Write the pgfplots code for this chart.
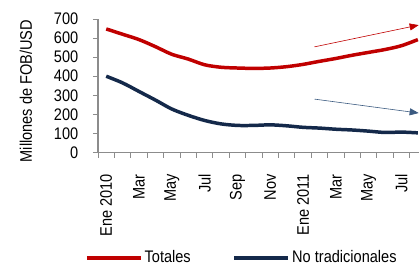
\documentclass[border=0pt]{standalone}
\usepackage{pgfplots}
\pgfplotsset{compat=1.18}
\usepackage{fontspec}
\setmainfont{Liberation Sans}[FakeStretch=0.87]
\usetikzlibrary{arrows.meta}
\definecolor{tred}{HTML}{C00000}
\definecolor{tblue}{HTML}{14294A}
\definecolor{ablue}{HTML}{3B5A80}
\definecolor{agray}{HTML}{8C8C8C}
\newcommand{\cf}{\fontsize{16.8}{19}\selectfont}
\begin{document}
\cf
\begin{tikzpicture}
\begin{axis}[
  name=ax,
  scale only axis,
  width=321bp, height=133.5bp,
  xmin=-0.5, xmax=19.07,
  ymin=0, ymax=700,
  axis x line=bottom, axis y line=left,
  axis line style={-, agray, line width=1.3pt},
  ytick={0,100,...,700},
  xtick={0,2,...,18},
  xticklabels={Ene 2010,Mar,May,Jul,Sep,Nov,Ene 2011,Mar,May,Jul},
  minor xtick={-0.5,0.5,...,19.5},
  major x tick style={draw=none},
  minor tick length=5bp,
  major tick length=5bp,
  tick align=outside,
  tick style={agray, line width=1pt},
  xticklabel style={rotate=90, anchor=east, font=\cf},
  yticklabel style={font=\cf},
  xticklabel shift=11bp,
  yticklabel shift=9bp,
  /pgf/number format/assume math mode=true,
  ylabel={Millones de FOB/USD},
  ylabel style={at={(axis description cs:-0.225,0.46)}, anchor=center, font=\cf},
  clip=true,
  legend columns=2,
  legend style={draw=none, fill=none, at={(axis description cs:-0.05,-0.79)}, anchor=west,
     font=\cf, /tikz/every even column/.append style={column sep=40bp}},
  legend image code/.code={\draw[#1, line width=3.5pt] (0bp,0bp) -- (54bp,0bp);},
]
\addplot[tred, line width=3.5pt, smooth, tension=0.5] coordinates {
(0,648) (1,620) (2,592) (3,555) (4,515) (5,490) (6,460) (7,447) (8,443) (9,441)
(10,443) (11,450) (12,462) (13,478) (14,493) (15,510) (16,525) (17,540) (18,560) (19,592)};
\addlegendentry{Totales}
\addplot[tblue, line width=3.5pt, smooth, tension=0.5] coordinates {
(0,400) (1,365) (2,320) (3,275) (4,228) (5,195) (6,168) (7,150) (8,142) (9,142)
(10,145) (11,140) (12,132) (13,128) (14,122) (15,118) (16,112) (17,105) (18,107) (19,103)};
\addlegendentry{No tradicionales}
\draw[tred, line width=0.6pt, -{Triangle[length=9bp,width=7bp]}] (axis cs:12.7,554) -- (axis cs:19.05,668);
\draw[ablue, line width=0.6pt, -{Triangle[length=9bp,width=7bp]}] (axis cs:12.7,280) -- (axis cs:19.05,207);
\end{axis}
\pgfresetboundingbox
\path ([shift={(-98bp,-112.5bp)}]ax.south west) rectangle ([shift={(321bp,152.5bp)}]ax.south west);
\end{tikzpicture}
\end{document}
